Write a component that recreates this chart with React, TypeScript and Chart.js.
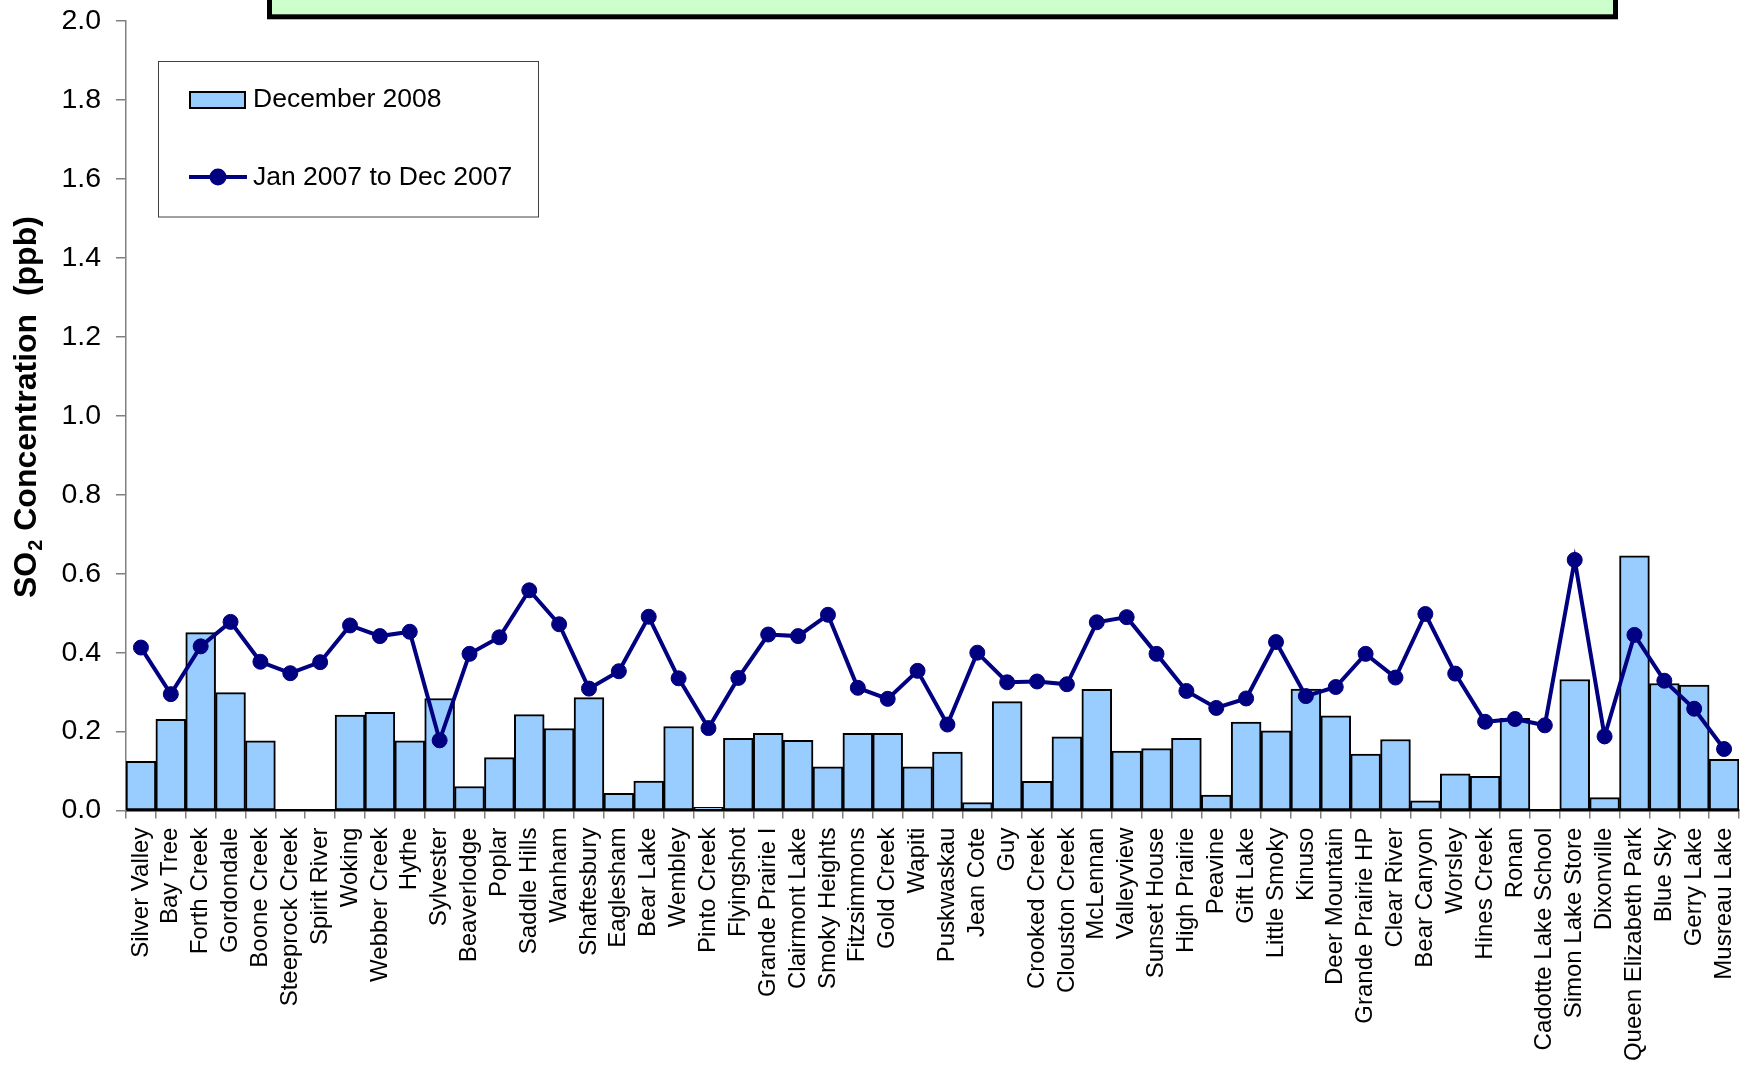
import React, { useEffect, useRef } from "react";
import { Chart, registerables } from "chart.js";

Chart.register(...registerables);

const stations: string[] = [
  "Silver Valley", "Bay Tree", "Forth Creek", "Gordondale", "Boone Creek", "Steeprock Creek",
  "Spirit River", "Woking", "Webber Creek", "Hythe", "Sylvester", "Beaverlodge", "Poplar",
  "Saddle Hills", "Wanham", "Shaftesbury", "Eaglesham", "Bear Lake", "Wembley", "Pinto Creek",
  "Flyingshot", "Grande Prairie I", "Clairmont Lake", "Smoky Heights", "Fitzsimmons", "Gold Creek",
  "Wapiti", "Puskwaskau", "Jean Cote", "Guy", "Crooked Creek", "Clouston Creek", "McLennan",
  "Valleyview", "Sunset House", "High Prairie", "Peavine", "Gift Lake", "Little Smoky", "Kinuso",
  "Deer Mountain", "Grande Prairie HP", "Clear River", "Bear Canyon", "Worsley", "Hines Creek",
  "Ronan", "Cadotte Lake School", "Simon Lake Store", "Dixonville", "Queen Elizabeth Park",
  "Blue Sky", "Gerry Lake", "Musreau Lake",
];

const december2008: (number | null)[] = [
  0.125, 0.231, 0.451, 0.299, 0.177, null, null, 0.242, 0.249, 0.177,
  0.284, 0.061, 0.134, 0.243, 0.208, 0.286, 0.044, 0.075, 0.213, 0.008,
  0.183, 0.196, 0.178, 0.111, 0.196, 0.196, 0.111, 0.148, 0.020, 0.276,
  0.074, 0.187, 0.307, 0.151, 0.157, 0.183, 0.039, 0.224, 0.202, 0.308,
  0.240, 0.143, 0.180, 0.025, 0.093, 0.087, 0.234, null, 0.332, 0.033,
  0.645, 0.322, 0.318, 0.130,
];

const jan2007toDec2007: number[] = [
  0.413, 0.295, 0.416, 0.478, 0.377, 0.348, 0.376, 0.469, 0.442, 0.453,
  0.178, 0.397, 0.439, 0.558, 0.472, 0.309, 0.353, 0.491, 0.335, 0.209,
  0.336, 0.446, 0.442, 0.496, 0.311, 0.283, 0.354, 0.218, 0.400, 0.325,
  0.327, 0.320, 0.477, 0.490, 0.397, 0.303, 0.260, 0.284, 0.427, 0.290,
  0.313, 0.397, 0.337, 0.498, 0.347, 0.225, 0.232, 0.216, 0.635, 0.188,
  0.445, 0.329, 0.258, 0.156,
];

const seriesNames = ["December 2008", "Jan 2007 to Dec 2007"];
const yTicks = { min: 0, max: 2.0, step: 0.2 };
const yTitleParts = ["SO", "2", " Concentration  (ppb)"];

const FONT = "'Liberation Sans', Arial, Helvetica, sans-serif";
const BAR_FILL = "#99CCFF";
const LINE_COLOR = "#000080";

const W = 1753;
const H = 1071;

const decorPlugin = {
  id: "decor",
  afterDraw(chart: any) {
    const ctx = chart.ctx as CanvasRenderingContext2D;
    ctx.save();
    // clipped title box at the top
    ctx.fillStyle = "#CCFFCC";
    ctx.fillRect(269.5, -20, 1346, 36.8);
    ctx.lineWidth = 5;
    ctx.strokeStyle = "#000";
    ctx.strokeRect(269.5, -20, 1346, 36.8);

    // legend box
    ctx.fillStyle = "#fff";
    ctx.fillRect(158.5, 61.5, 380, 155.5);
    ctx.lineWidth = 1;
    ctx.strokeStyle = "#404040";
    ctx.strokeRect(158.5, 61.5, 380, 155.5);

    // bar swatch
    ctx.fillStyle = BAR_FILL;
    ctx.fillRect(190, 92, 55, 16);
    ctx.lineWidth = 2;
    ctx.strokeStyle = "#000";
    ctx.strokeRect(190, 92, 55, 16);

    // line swatch
    ctx.strokeStyle = LINE_COLOR;
    ctx.lineWidth = 4;
    ctx.beginPath();
    ctx.moveTo(189, 177);
    ctx.lineTo(247, 177);
    ctx.stroke();
    ctx.fillStyle = LINE_COLOR;
    ctx.beginPath();
    ctx.arc(218, 177, 8.5, 0, Math.PI * 2);
    ctx.fill();

    ctx.fillStyle = "#000";
    ctx.font = `26.5px ${FONT}`;
    ctx.textBaseline = "middle";
    ctx.textAlign = "left";
    ctx.fillText(seriesNames[0], 253, 100);
    ctx.fillText(seriesNames[1], 253, 177.5);

    // y-axis title with subscript
    ctx.translate(36, 598);
    ctx.rotate(-Math.PI / 2);
    ctx.textBaseline = "alphabetic";
    ctx.font = `bold 32px ${FONT}`;
    ctx.fillText(yTitleParts[0], 0, 0);
    let x = ctx.measureText(yTitleParts[0]).width;
    ctx.font = `bold 20px ${FONT}`;
    ctx.fillText(yTitleParts[1], x + 1, 6);
    x += ctx.measureText(yTitleParts[1]).width + 1;
    ctx.font = `bold 32px ${FONT}`;
    ctx.fillText(yTitleParts[2], x, 0);
    ctx.restore();
  },
};

export default function App() {
  const ref = useRef<HTMLCanvasElement | null>(null);

  useEffect(() => {
    if (!ref.current) return;
    const chart = new Chart(ref.current, {
      type: "bar",
      data: {
        labels: stations,
        datasets: [
          {
            type: "line",
            label: seriesNames[1],
            data: jan2007toDec2007,
            borderColor: LINE_COLOR,
            backgroundColor: LINE_COLOR,
            borderWidth: 4,
            pointRadius: 7.5,
            pointBorderWidth: 1,
            pointBackgroundColor: LINE_COLOR,
            pointBorderColor: LINE_COLOR,
            tension: 0,
            order: 1,
          } as any,
          {
            type: "bar",
            label: seriesNames[0],
            data: december2008,
            backgroundColor: BAR_FILL,
            borderColor: "#000",
            borderWidth: 2,
            borderSkipped: false,
            categoryPercentage: 1,
            barPercentage: 1,
            order: 2,
          } as any,
        ],
      },
      options: {
        responsive: false,
        animation: false,
        layout: { padding: { left: 0, right: 14, top: 21, bottom: 0 } },
        plugins: {
          legend: { display: false },
          tooltip: { enabled: false },
        },
        scales: {
          x: {
            type: "category",
            offset: true,
            grid: {
              offset: true,
              drawOnChartArea: false,
              drawTicks: true,
              tickLength: 8,
              color: "#808080",
              lineWidth: 1.5,
            },
            border: { display: true, color: "#000", width: 2.5 },
            ticks: {
              autoSkip: false,
              maxRotation: 90,
              minRotation: 90,
              padding: 9,
              color: "#000",
              font: { family: FONT, size: 24 },
            },
            afterFit(scale: any) {
              scale.height = H - 810.6;
              scale.paddingLeft = 0;
              scale.paddingRight = 0;
            },
          },
          y: {
            min: yTicks.min,
            max: yTicks.max,
            ticks: {
              stepSize: yTicks.step,
              color: "#000",
              padding: 15,
              font: { family: FONT, size: 28.5 },
              callback: (v: any) => Number(v).toFixed(1),
            },
            grid: {
              drawOnChartArea: false,
              drawTicks: true,
              tickLength: 10,
              color: "#808080",
              lineWidth: 1.5,
            },
            border: { display: true, color: "#808080", width: 1.5 },
            afterFit(scale: any) {
              scale.width = 126;
              scale.paddingTop = 0;
              scale.paddingBottom = 0;
            },
          },
        },
      },
      plugins: [decorPlugin],
    });
    return () => chart.destroy();
  }, []);

  return (
    <div style={{ position: "absolute", left: 0, top: 0, width: W, height: H, background: "#fff" }}>
      <canvas ref={ref} width={W} height={H} style={{ display: "block", width: W, height: H }} />
    </div>
  );
}
